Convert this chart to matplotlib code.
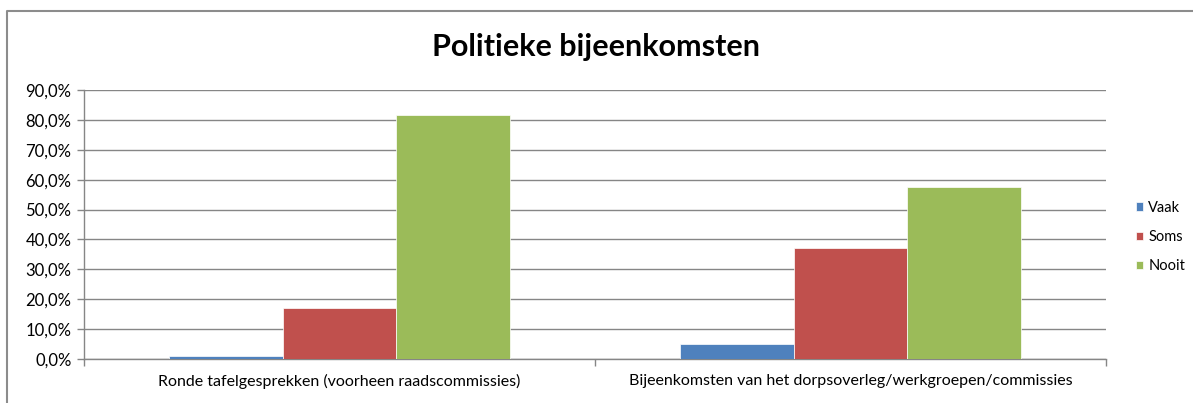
import matplotlib.pyplot as plt
import numpy as np
from matplotlib.ticker import FuncFormatter, FixedLocator

plt.rcParams['font.family'] = ['Lato', 'DejaVu Sans']

# data (percentages)
categories = ['Ronde tafelgesprekken (voorheen raadscommissies)',
              'Bijeenkomsten van het dorpsoverleg/werkgroepen/commissies']
series = ['Vaak', 'Soms', 'Nooit']
vaak = [0.9, 4.9]
soms = [17.1, 37.2]
nooit = [81.5, 57.4]
colors = ['#4F81BD', '#C0504D', '#9BBB59']

fig = plt.figure(figsize=(11.93, 4.03), dpi=100)
ax = fig.add_axes([84 / 1193, 44 / 403, 1022 / 1193, 269 / 403])

x = np.arange(len(categories))
width = 1 / 4.5
for i, (name, vals) in enumerate(zip(series, [vaak, soms, nooit])):
    ax.bar(x + (i - 1) * width, vals, width, color=colors[i], label=name,
           edgecolor='white', linewidth=0.5, zorder=3)

ax.set_xlim(-0.5, len(categories) - 0.5)
ax.set_ylim(0, 90)
ax.set_yticks(np.arange(0, 91, 10))
ax.yaxis.set_major_formatter(FuncFormatter(lambda v, p: f'{v:.1f}%'.replace('.', ',')))
ax.grid(axis='y', color='#868686', linewidth=1, zorder=0)

ax.set_xticks(x)
ax.set_xticklabels(categories, fontsize=11.5)
ax.tick_params(axis='x', length=0, pad=11)
ax.xaxis.set_minor_locator(FixedLocator([-0.5, 0.5, 1.5]))
ax.tick_params(axis='x', which='minor', length=5, color='#868686', width=1)
ax.tick_params(axis='y', length=5, color='#868686', width=1, labelsize=12, pad=4)

for s in ['top', 'right']:
    ax.spines[s].set_visible(False)
for s in ['left', 'bottom']:
    ax.spines[s].set_color('#868686')
    ax.spines[s].set_linewidth(1)

fig.text(0.5, 1 - 47 / 403, 'Politieke bijeenkomsten', ha='center', va='center',
         fontsize=22, fontweight='bold')

fig.legend(loc='center left', bbox_to_anchor=(1136 / 1193, 1 - 237 / 403),
           frameon=False, fontsize=10.5, handlelength=0.5, handleheight=0.5,
           handletextpad=0.35, labelspacing=1.05, borderaxespad=0, borderpad=0)

# chart border (left and top visible)
fig.lines.append(plt.Line2D([7 / 1193, 7 / 1193, 1.0], [0, 1 - 11 / 403, 1 - 11 / 403],
                            transform=fig.transFigure, color='#8c8c8c', linewidth=1.5))

fig.savefig('out.png', dpi=100)
